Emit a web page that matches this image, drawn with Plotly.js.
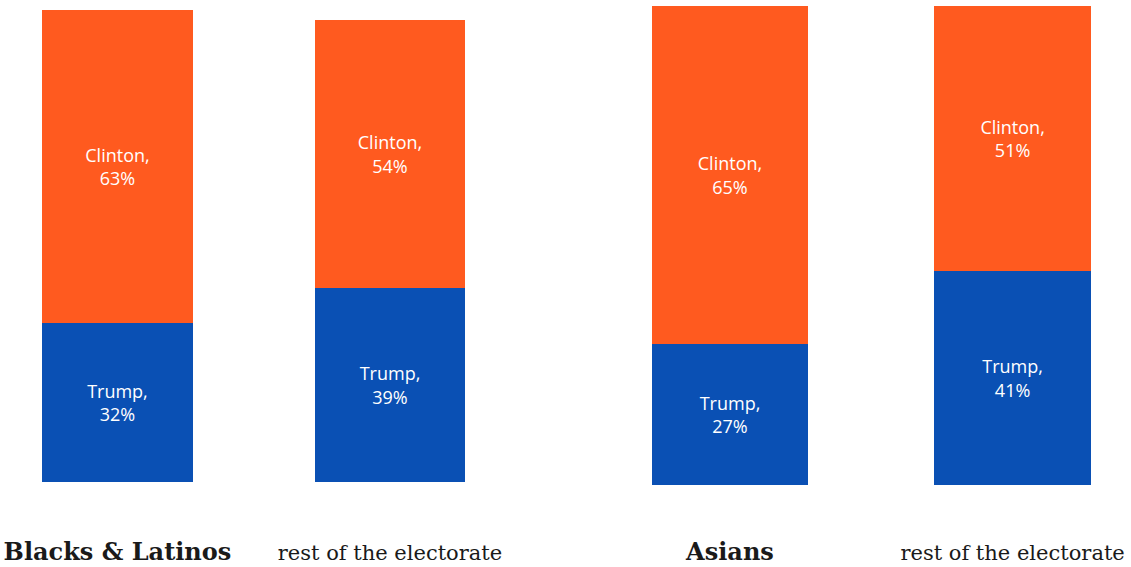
<!DOCTYPE html>
<html>
<head>
<meta charset="utf-8">
<script src="https://cdn.plot.ly/plotly-3.0.1.min.js"></script>
<style>html,body{margin:0;padding:0;background:#fff;}#chart{width:1131px;height:567px;}</style>
</head>
<body>
<div id="chart"></div>
<script>
// Data
const leftCategories = ['Blacks & Latinos', 'rest of the electorate'];
const rightCategories = ['Asians', 'rest of the electorate'];
const leftTickLabels = ['<span style="font-size:24px"><b>Blacks &amp; Latinos</b></span>', 'rest of the electorate'];
const rightTickLabels = ['<span style="font-size:24px"><b>Asians</b></span>', 'rest of the electorate'];
const leftTrump = [32, 39];
const leftClinton = [63, 54];
const rightTrump = [27, 41];
const rightClinton = [65, 51];

const BLUE = '#0A50B4';
const ORANGE = '#FF5A1F';
const inFont = {family: '"Open Sans", Lato, sans-serif', size: 18, color: '#ffffff'};

function bar(x, y, name, color, xa, ya) {
  return {
    type: 'bar', x: x, y: y, name: name, xaxis: xa, yaxis: ya,
    marker: {color: color},
    width: 0.554,
    text: y.map(v => name + ',<br>' + v + '%'),
    textposition: 'inside', insidetextanchor: 'middle',
    textfont: inFont, insidetextfont: inFont,
    hoverinfo: 'skip', showlegend: false
  };
}

const data = [
  bar(leftCategories, leftTrump, 'Trump', BLUE, 'x', 'y'),
  bar(leftCategories, leftClinton, 'Clinton', ORANGE, 'x', 'y'),
  bar(rightCategories, rightTrump, 'Trump', BLUE, 'x2', 'y2'),
  bar(rightCategories, rightClinton, 'Clinton', ORANGE, 'x2', 'y2')
];

const tickFont = {family: '"DejaVu Serif", "Liberation Serif", serif', size: 21, color: '#1a1a1a'};
const ydom = [(567 - 538) / 567, 1];

const layout = {
  width: 1131, height: 567,
  margin: {l: 0, r: 0, t: 0, b: 0},
  paper_bgcolor: '#ffffff', plot_bgcolor: '#ffffff',
  barmode: 'stack',
  showlegend: false,
  xaxis: {domain: [0, 0.5], type: 'category', range: [-0.431, 1.644],
    tickvals: leftCategories, ticktext: leftTickLabels, tickfont: tickFont,
    showline: false, showgrid: false, zeroline: false, ticks: '', anchor: 'y', fixedrange: true},
  yaxis: {domain: ydom, range: [-11.27, 97.02], visible: false, fixedrange: true},
  xaxis2: {domain: [0.5, 1], type: 'category', range: [-0.582, 1.419],
    tickvals: rightCategories, ticktext: rightTickLabels, tickfont: tickFont,
    showline: false, showgrid: false, zeroline: false, ticks: '', anchor: 'y2', fixedrange: true},
  yaxis2: {domain: ydom, range: [-10.2, 93.15], visible: false, fixedrange: true}
};

Plotly.newPlot('chart', data, layout, {displayModeBar: false, staticPlot: true});
</script>
</body>
</html>
